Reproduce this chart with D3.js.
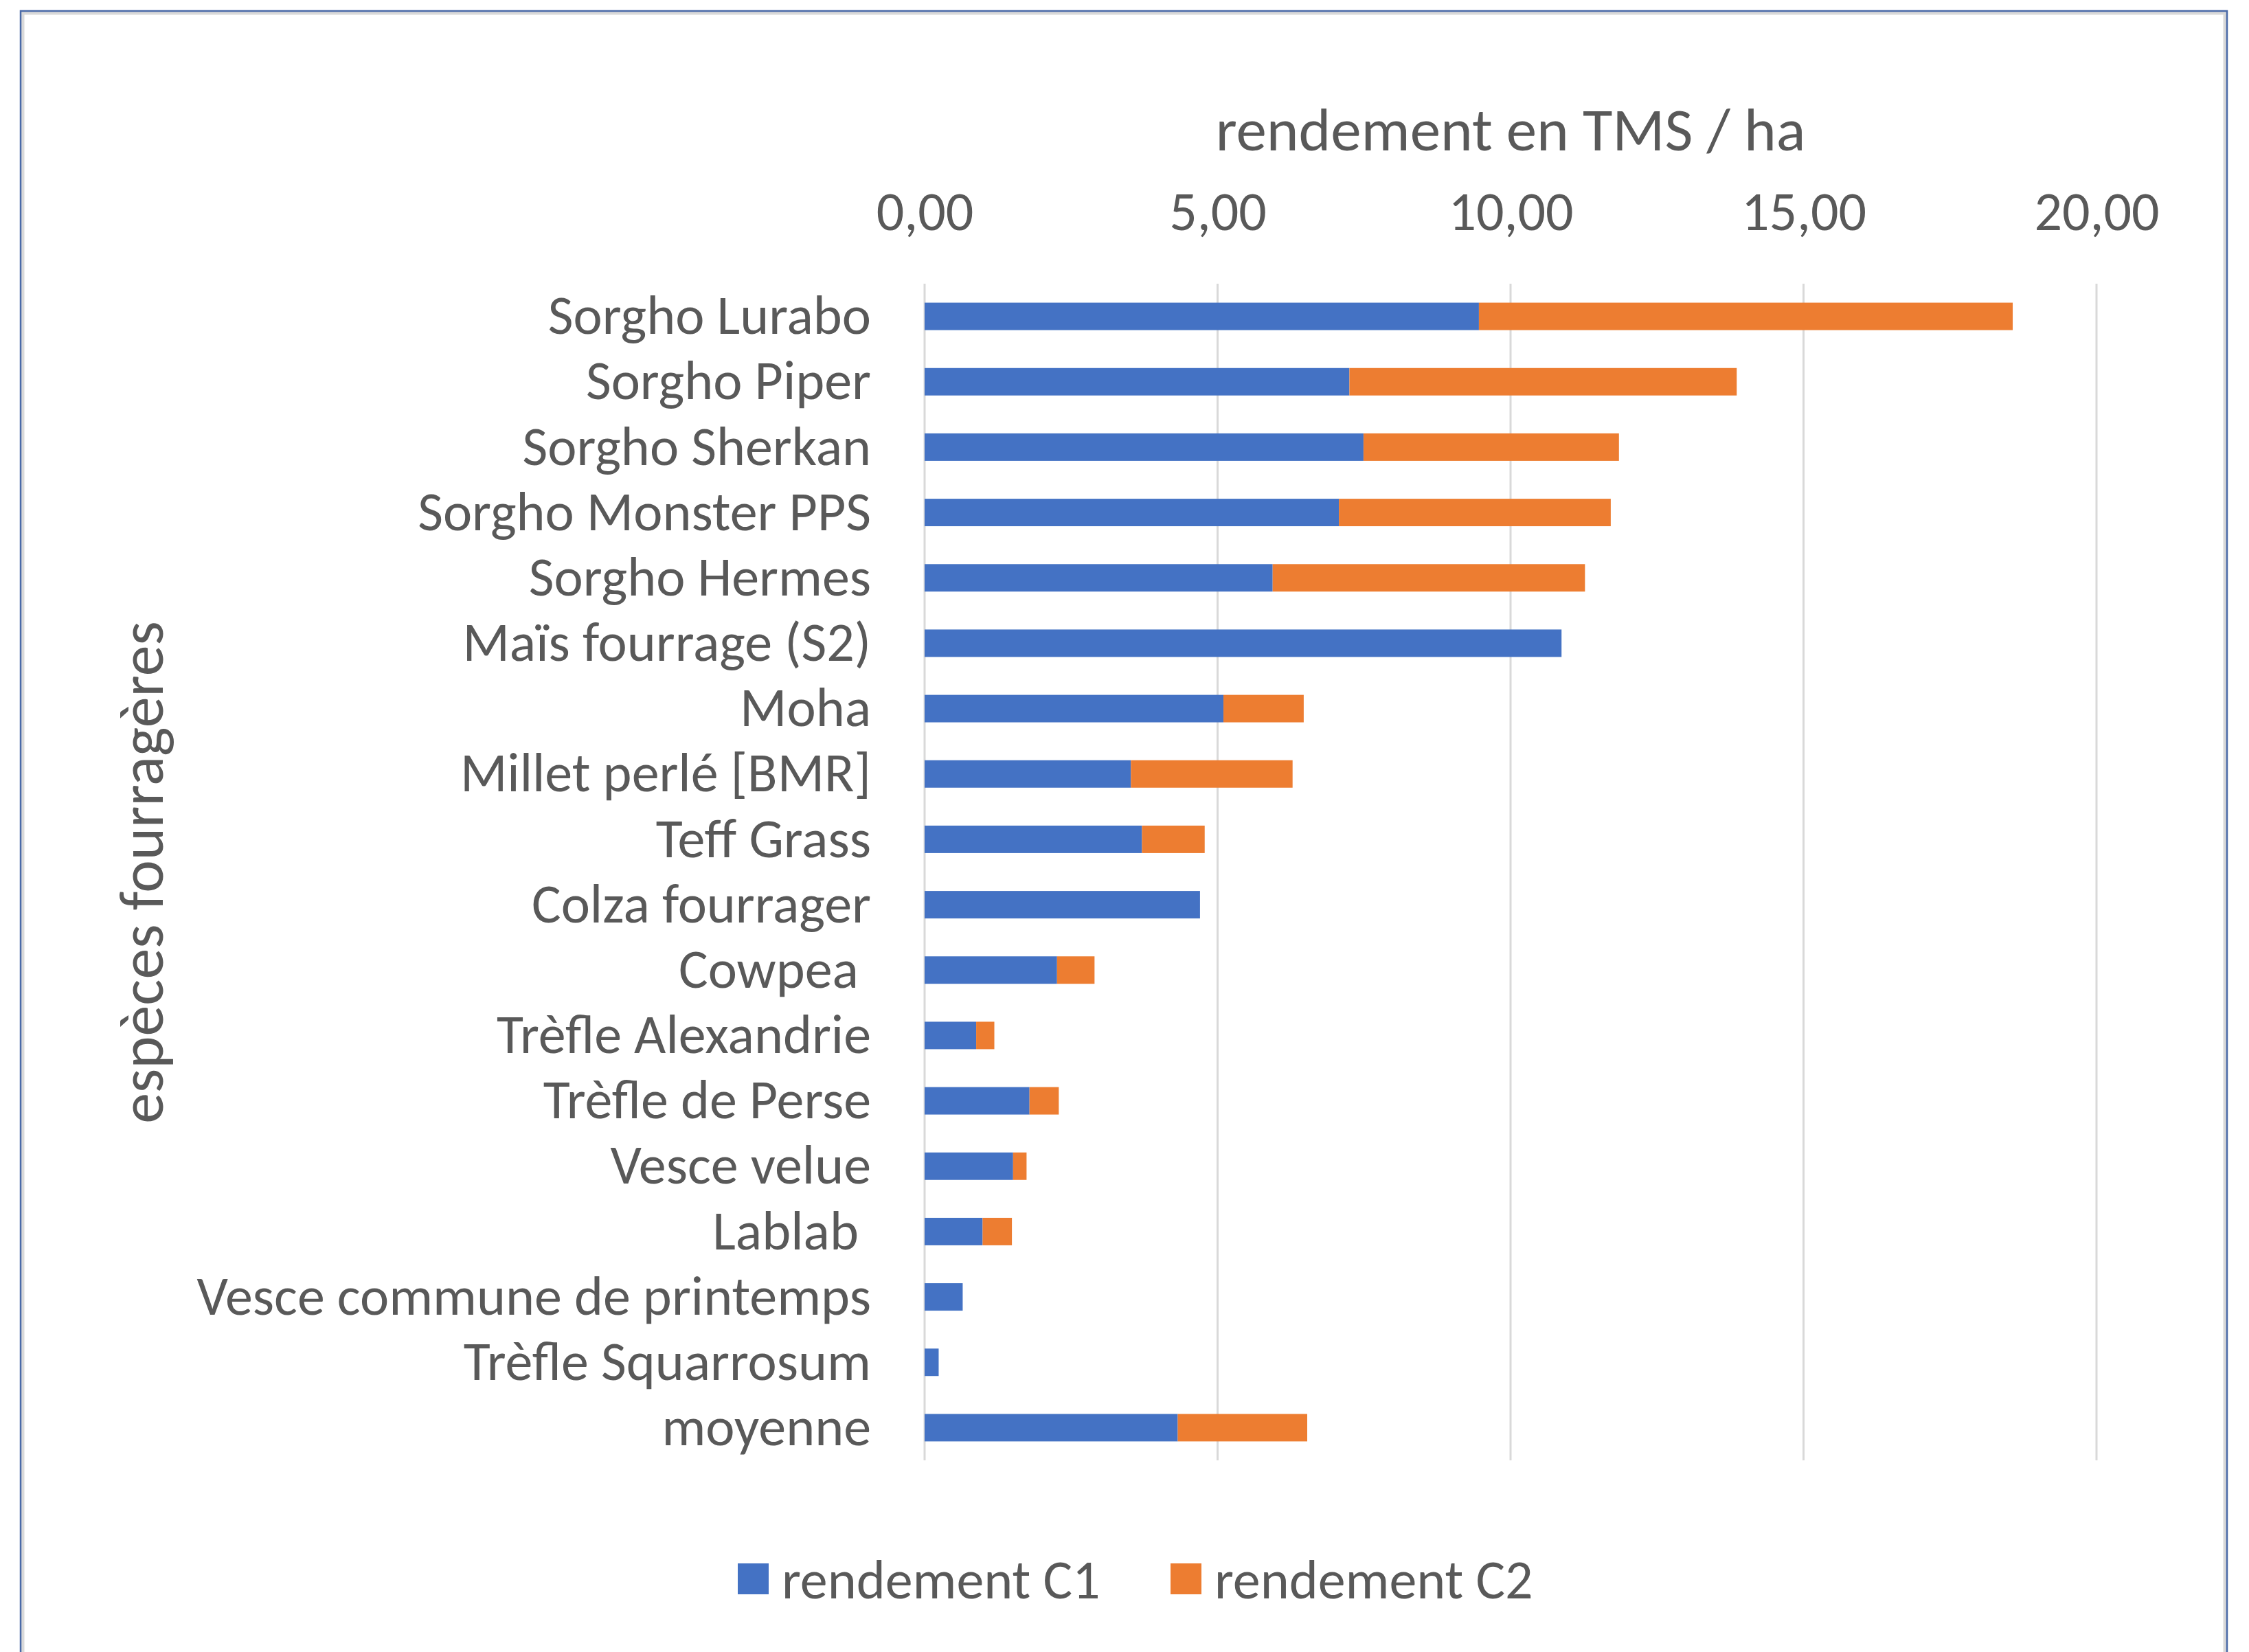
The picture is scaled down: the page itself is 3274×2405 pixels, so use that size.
<!DOCTYPE html>
<html>
<head>
<meta charset="utf-8">
<script src="https://cdn.jsdelivr.net/npm/d3@7"></script>
<style>
  body { margin: 0; background: #fff; }
  text { font-family: Carlito, Calibri, Lato, sans-serif; fill: #595959; }
</style>
</head>
<body>
<div id="chart"></div>
<script>
// categories, top to bottom
var especes = ["Sorgho Lurabo", "Sorgho Piper", "Sorgho Sherkan", "Sorgho Monster PPS", "Sorgho Hermes",
    "Maïs fourrage (S2)", "Moha", "Millet perlé [BMR]", "Teff Grass", "Colza fourrager", "Cowpea ",
    "Trèfle Alexandrie", "Trèfle de Perse", "Vesce velue", "Lablab ", "Vesce commune de printemps",
    "Trèfle Squarrosum", "moyenne"];
// rendement coupe 1 et coupe 2 (TMS / ha)
var rendementC1 = [9.46, 7.25, 7.49, 7.07, 5.94, 10.87, 5.10, 3.52, 3.71, 4.70, 2.26, 0.88, 1.79, 1.51, 0.99, 0.65, 0.24, 4.32];
var rendementC2 = [9.11, 6.61, 4.36, 4.64, 5.33, 0, 1.37, 2.76, 1.07, 0, 0.64, 0.31, 0.50, 0.23, 0.50, 0, 0, 2.21];
var xTicks = [0, 5, 10, 15, 20];
var series = ["rendement C1", "rendement C2"];
var colors = ["#4472C4", "#ED7D31"];

var W = 3274, H = 2405;
var margin = {t: 413, r: 222, b: 279, l: 1346};
var width = W - margin.l - margin.r,
    height = H - margin.t - margin.b;

var svg = d3.select('#chart').append('svg')
    .attr('width', W)
    .attr('height', H);

// chart frame
svg.append('rect').attr('x', 33).attr('y', 19).attr('width', 3206).attr('height', 2420)
    .attr('fill', 'none').attr('stroke', '#d9d9d9').attr('stroke-width', 5);
svg.append('rect').attr('x', 30).attr('y', 16).attr('width', 3212).attr('height', 2420)
    .attr('fill', 'none').attr('stroke', '#4a6aa8').attr('stroke-width', 2.5);

var table = especes.map(function(d, i){
    return {espece: d, c1: rendementC1[i], c2: rendementC2[i]};
});
var stack = d3.stack().keys(['c1', 'c2'])(table);

var scaleX = d3.scaleLinear().domain([0, 20]).range([0, width]);
var scaleY = d3.scaleBand().domain(especes).range([0, height]).paddingInner(0.58).paddingOuter(0.29);

var plot = svg.append('g').attr('transform', 'translate(' + margin.l + ',' + margin.t + ')');

// gridlines
plot.append('g').selectAll('line').data(xTicks).enter().append('line')
    .attr('x1', function(d){ return scaleX(d); })
    .attr('x2', function(d){ return scaleX(d); })
    .attr('y1', 0).attr('y2', height)
    .attr('stroke', '#d9d9d9').attr('stroke-width', 3);

// top axis labels
var axisTop = d3.axisTop(scaleX).tickValues(xTicks).tickSize(0).tickPadding(0)
    .tickFormat(function(d){ return d3.format('.2f')(d).replace('.', ','); });
var gx = plot.append('g').attr('transform', 'translate(0,-106)').call(axisTop);
gx.select('.domain').remove();
gx.selectAll('text').attr('font-size', 80).attr('fill', '#595959')
    .attr('dy', '0.35em').style('font-family', null);

// y labels
var axisLeft = d3.axisLeft(scaleY).tickSize(0).tickPadding(78);
var gy = plot.append('g').call(axisLeft);
gy.select('.domain').remove();
gy.selectAll('text').attr('font-size', 80).attr('fill', '#595959')
    .style('white-space', 'pre').style('font-family', null);

// stacked bars
plot.selectAll('.serie').data(stack).enter().append('g')
    .attr('class', 'serie')
    .attr('fill', function(d, i){ return colors[i]; })
    .selectAll('rect').data(function(d){ return d; }).enter().append('rect')
    .attr('x', function(d){ return scaleX(d[0]); })
    .attr('y', function(d){ return scaleY(d.data.espece); })
    .attr('width', function(d){ return scaleX(d[1]) - scaleX(d[0]); })
    .attr('height', scaleY.bandwidth());

// titles
svg.append('text').attr('x', margin.l + scaleX(10)).attr('y', 188).attr('dy', '0.35em')
    .attr('text-anchor', 'middle').attr('font-size', 89).text('rendement en TMS / ha');
svg.append('text').attr('transform', 'translate(205,1270) rotate(-90)').attr('dy', '0.35em')
    .attr('text-anchor', 'middle').attr('font-size', 90).text('espèces fourragères');

// legend
var legendX = [1074, 1704];
var legend = svg.selectAll('.legend').data(series).enter().append('g')
    .attr('class', 'legend')
    .attr('transform', function(d, i){ return 'translate(' + legendX[i] + ',2276)'; });
legend.append('rect').attr('width', 45).attr('height', 45)
    .attr('fill', function(d, i){ return colors[i]; });
legend.append('text').attr('x', 64).attr('y', 23).attr('dy', '0.35em')
    .attr('font-size', 80).text(function(d){ return d; });
</script>
</body>
</html>
